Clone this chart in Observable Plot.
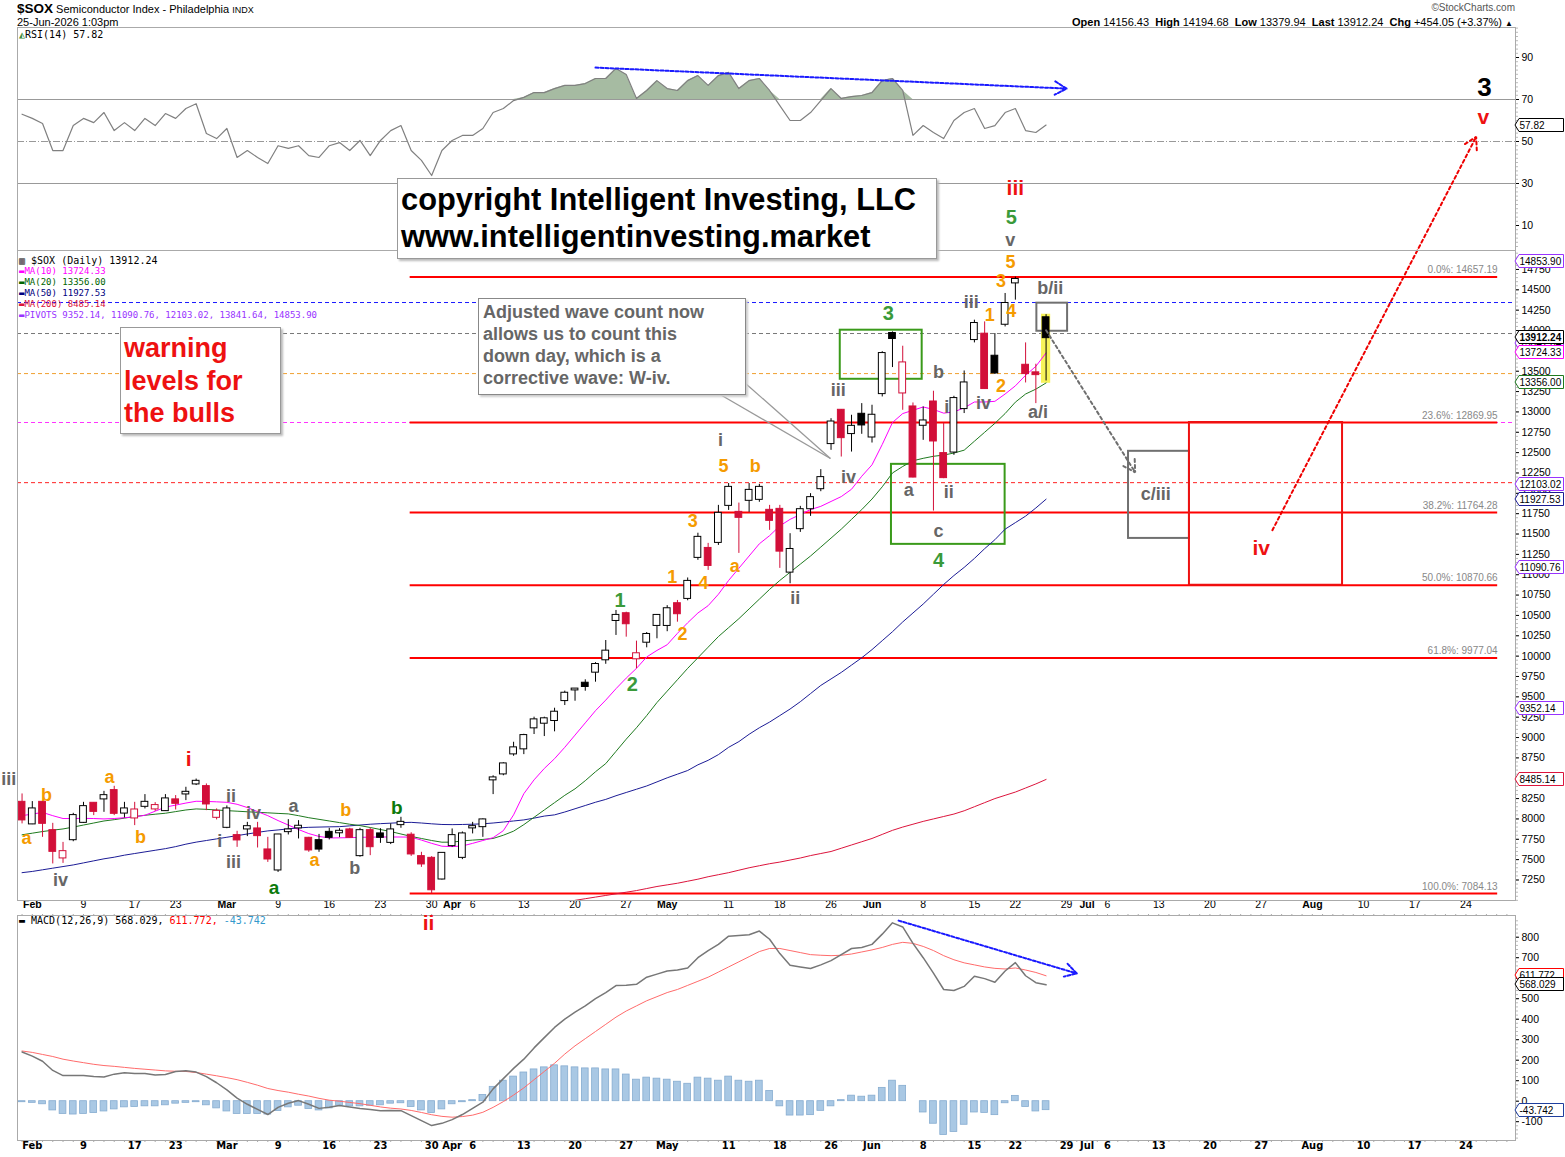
<!DOCTYPE html>
<html><head><meta charset="utf-8">
<script src="https://cdn.jsdelivr.net/npm/d3@7"></script>
<script src="https://cdn.jsdelivr.net/npm/@observablehq/plot@0.6"></script>
<style>
body{margin:0;background:#fff;font-family:"Liberation Sans",Arial,sans-serif;}
#wrap{position:relative;width:1565px;height:1157px;overflow:hidden;background:#fff;}
.box{position:absolute;background:#fff;z-index:6;box-sizing:border-box;}
.leg{position:absolute;font-family:"DejaVu Sans Mono",monospace;font-size:10px;white-space:nowrap;z-index:6;}
</style></head><body><div id="wrap"></div>
<script>
// ================= DATA =================
const firstIndex = -1;           // trading-day index of first candle (Jan 30 2026); Feb 2 = 0
const priorClose = 8210;
const open = [8204,7939,8204,7856,7521,7745,7958,8192,8246,8348,8072,8012,8155,8123,8102,8234,8307,8430,8397,8020,7897,7795,7877,7877,7619,7373,7844,7890,7762,7733,7835,7830,7865,7549,7856,7816,7712,7930,7800,7537,7516,7262,7672,7528,7890,7905,8480,8553,8799,8861,9119,9176,9209,9454,9585,9667,9803,9955,10438,10521,9967,10171,10377,10377,10644,10709,11213,11323,11397,11852,11766,11914,11926,11791,11803,11032,11566,11811,12057,12611,13020,12734,12971,12692,13225,13963,13233,13061,12836,13122,12488,12507,13041,13889,13955,13684,14077,14585,13573,13480,14156.43];
const high = [8307,8213,8213,7946,7712,8069,8204,8200,8339,8401,8204,8204,8299,8200,8299,8287,8389,8490,8430,8123,8160,7848,7958,7958,7774,7810,7991,7979,7774,7810,7885,7880,7885,7885,7885,7880,7940,8020,7830,7590,7537,7580,7877,7840,7958,8000,8530,8690,8942,9040,9250,9250,9360,9570,9600,9709,9920,10192,10561,10540,10184,10290,10510,10620,10684,10960,11510,11385,11852,12120,11880,12120,12110,11852,11852,11504,11840,11996,12291,12917,13029,12959,13102,13082,13740,13983,13807,13110,13061,13254,12864,13192,13503,14127,14106,13963,14455,14657.19,13848,13586,14194.68];
const low = [7939,7930,7774,7447,7454,7720,7946,8041,8081,8041,8012,7918,8123,8093,8093,8110,8225,8410,8102,7988,7880,7651,7783,7643,7466,7343,7803,7754,7590,7590,7742,7770,7760,7530,7549,7700,7685,7885,7540,7405,7084.13,7250,7651,7500,7816,7774,8299,8530,8770,8790,9037,9012,9070,9393,9446,9569,9680,9900,10254,10233,9844,10102,10213,10300,10417,10680,11177,11053,11360,11790,11262,11766,11890,11545,11078,10889,11520,11717,12020,12528,12446,12507,12725,12618,13184,13545,13020,12190,12651,11782,12180,12467,12980,13848,13280,13460,14044,14373,13356,13102,13379.94];
const close = [7988,8123,7946,7602,7598,8041,8151,8093,8286,8069,8123,8110,8204,8164,8246,8192,8327,8462,8184,8093,8123,7742,7905,7795,7508,7803,7865,7910,7619,7630,7774,7848,7774,7856,7659,7774,7865,7958,7570,7447,7130,7577,7795,7816,7905,7988,8504,8676,8873,9024,9217,9230,9311,9544,9595,9627,9897,10061,10500,10398,10029,10266,10500,10582,10521,10918,11459,11114,11754,12073,11705,12036,12073,11668,11290,11310,11799,11947,12193,12876,12684,12823,12840,12959,13717,13902,13602,12200,12889,12643,12193,13164,13356,14086,13287,13479,14332,14627,13471,13458.19,13912.24];

const ma10 = [8040,8060,8080,8040,8005,8005,8007,8005,8000,8005,8015,8025,8045,8095,8145,8170,8195,8217,8215,8210,8204,8180,8140,8090,8040,7980,7925,7870,7820,7785,7766,7768,7770,7774,7776,7778,7778,7778,7776,7740,7700,7665,7660,7668,7700,7735,7770,7856,8050,8310,8480,8620,8740,8880,9030,9180,9330,9460,9600,9730,9850,9990,10070,10140,10280,10410,10530,10620,10760,10930,11080,11230,11380,11480,11600,11680,11740,11800,11840,11900,11960,12050,12210,12350,12600,12870,12980,13020,13061,13030,12985,13000,13050,13122,13122,13130,13220,13320,13450,13560,13724.33];
const ma20 = [7805,7825,7845,7862,7877,7900,7925,7950,7975,7991,8010,8030,8045,8058,8070,8090,8110,8123,8118,8110,8102,8095,8088,8081,8075,8068,8062,8040,8015,7995,7975,7955,7935,7918,7895,7870,7845,7815,7785,7760,7735,7714,7715,7730,7740,7748,7760,7800,7850,7930,8020,8110,8200,8290,8370,8470,8580,8680,8830,8980,9120,9270,9430,9570,9710,9850,9980,10110,10240,10350,10460,10580,10700,10820,10930,11030,11130,11230,11340,11450,11560,11680,11800,11930,12080,12250,12330,12400,12430,12455,12470,12495,12530,12640,12750,12860,12980,13120,13220,13280,13356.00];
const ma50 = [7340,7355,7375,7395,7415,7435,7460,7485,7510,7530,7555,7575,7595,7615,7635,7660,7690,7715,7735,7755,7775,7795,7815,7835,7853,7865,7878,7890,7897,7900,7903,7905,7915,7925,7935,7942,7948,7955,7958,7950,7940,7932,7930,7932,7935,7940,7950,7962,7975,7988,8010,8035,8050,8085,8125,8165,8205,8240,8285,8325,8365,8405,8455,8505,8550,8595,8665,8720,8790,8880,8950,9040,9120,9190,9270,9350,9440,9540,9640,9720,9800,9890,9980,10080,10190,10300,10420,10530,10640,10760,10880,10990,11090,11200,11320,11430,11560,11640,11720,11820,11927.53];
const ma200Start = 53;
const ma200 = [7000,7020,7040,7060,7080,7100,7120,7145,7170,7190,7210,7235,7260,7290,7315,7340,7370,7400,7425,7450,7470,7495,7520,7550,7575,7600,7640,7680,7720,7760,7810,7860,7900,7935,7970,8000,8030,8060,8100,8150,8200,8250,8290,8330,8380,8430,8485.14];

const rsi = [63,61,58.6,45.7,45.7,57.6,61,59,63.8,55.2,59,55.2,61,57.6,63.3,61,65.7,68,53.8,51.4,56.2,42.4,45.7,42.4,39.5,48,46.7,48,43.3,42.4,48,49.5,45.7,50.5,43.3,50.5,55.2,57.6,45.7,41,33.8,45.7,50.5,52.9,52.9,56.2,63.8,65.7,69.5,71,73.3,73.3,75.2,76.7,76.7,77.6,80,80,84.8,81.9,70.5,74.3,79,75.2,74.3,79,81.4,76.7,81.4,82.9,75.2,79,80,74.3,67.1,60,60,63.8,69.5,75.2,70.5,71.4,71.9,73.3,79,80,74.3,52.9,57.6,54.3,51.4,60,63.8,65.7,56.2,57.6,63.8,65.7,55.2,54.3,57.82];
const rsiLevels = [70, 30];
const rsiMid = 50;

const macd = [240,220,195,150,125,125,125,120,118,132,139,135,135,128,130,145,148,142,120,90,55,15,-15,-40,-65,-30,-10,3,-15,-35,-30,-21,-28,-36,-40,-46,-45,-46,-70,-95,-119,-108,-90,-65,-35,-5,60,110,160,205,260,310,360,400,435,465,500,530,564,566,570,605,620,635,640,650,700,735,765,805,808,812,830,790,720,663,655,647,665,686,715,745,750,765,815,870,850,770,700,625,545,540,560,610,598,580,635,676,612,578,568.029];
const signal = [245,238,228,218,205,196,188,180,174,170,165,160,156,152,148,146,145,140,132,124,115,105,92,78,62,52,44,34,25,14,5,0,-6,-12,-20,-28,-34,-38,-45,-55,-66,-74,-78,-75,-68,-54,-30,-2,30,65,105,145,185,230,270,305,340,375,410,440,465,490,510,530,545,565,585,605,630,655,680,705,730,745,745,735,725,715,712,710,712,718,728,738,750,765,775,770,755,735,710,690,675,665,655,648,645,650,640,628,611.772];
const hist = [-5,-8,-15,-45,-62,-65,-62,-58,-50,-40,-30,-28,-25,-25,-20,-12,-8,-5,-20,-35,-50,-62,-62,-62,-65,-48,-30,-22,-38,-45,-35,-22,-25,-25,-22,-20,-12,-10,-28,-45,-58,-40,-15,-5,5,30,70,100,120,140,155,165,175,170,165,160,160,155,155,130,105,115,110,105,95,85,115,110,100,120,100,95,100,50,-25,-70,-70,-68,-47,-25,5,27,22,27,65,100,75,0,-55,-110,-165,-150,-115,-55,-57,-68,-10,26,-28,-50,-43.742];

const pivots = [14853.90, 13841.64, 12103.02, 11090.76, 9352.14];
const refLevels = [14344, 13963, 13471, 12870, 12131];

const fibPct = ["0.0%","23.6%","38.2%","50.0%","61.8%","100.0%"];
const fibVal = [14657.19,12869.95,11764.28,10870.66,9977.04,7084.13];
const fibFrom = 36.9, fibTo = 143.1;

const tickIdx  = [0,5,10,14,19,24,29,34,39,41,43,48,53,58,62,68,73,78,82,87,92,96,101,103,105,110,115,120,125,130,135,140];
const tickText = ["Feb","9","17","23","Mar","9","16","23","30","Apr","6","13","20","27","May","11","18","26","Jun","8","15","22","29","Jul","6","13","20","27","Aug","10","17","24"];
const priceTicks = d3.range(7250, 14751, 250);
const rsiTicks = [10,30,50,70,90];
const macdTicks = [-100,0,100,200,300,400,500,600,700,800];

// wave labels: [text, day index, price]
const grayLabels = [["iii",-2.3,8483],["iv",2.75,7241],["ii",19.4,8274],["iv",21.6,8065],["i",18.3,7721],["iii",19.65,7463],["a",25.5,8151],["b",31.5,7389],["ii",74.5,10709],["i",67.2,12651],["iii",78.7,13266],["iv",79.7,12196],["a",85.6,12036],["b",88.5,13487],["i",89.3,13057],["ii",89.5,12012],["c",88.5,11532],["iii",91.7,14348],["iv",92.9,13106],["a/i",98.2,12996],["b/ii",99.4,14520],["v",95.5,15110],["c/iii",109.7,11987]];
const orangeLabels = [["a",-0.57,7758],["b",1.39,8287],["a",7.54,8508],["b",10.57,7770],["a",27.56,7487],["b",30.6,8102],["3",64.5,11655],["1",62.5,10967],["4",65.55,10893],["2",63.5,10266],["5",67.5,12332],["a",68.6,11102],["b",70.6,12332],["5",95.53,14840],["3",94.6,14606],["1",93.5,14188],["4",95.6,14237],["2",94.6,13315]];
const greenLabels = [["1",57.4,10684],["2",58.6,9651],["3",83.6,14213],["4",88.5,11176],["5",95.6,15393]];
const darkGreenLabels = [["a",23.6,7155],["b",35.6,8139]];
const redLabels = [["i",15.27,8729],["ii",38.7,6713],["iii",96.0,15750],["iv",120,11323],["v",141.7,16623]];
const blackLabels = [["3",141.8,16979]];

// boxes: [i1, i2, price1, price2]
const greenBoxes = [[78.9,86.9,13401,14004],[83.9,95.0,11373,12356]];
const grayBoxes = [[98.1,101.1,13991,14336],[107.05,113.0,11446,12516]];
const redBoxes = [[113.0,127.95,10870.66,12869.95]];
const highlight = [[98.55,99.45,13352,14200]];
// arrows: [i1, v1, i2, v2]
const grayArrow = [[99,14003,107.7,12258]];
const redArrow = [[121.1,11547,141.0,16379]];
const rsiArrow = [[55.0,85.2,101,75.2]];
const macdArrow = [[84.6,881,102,623]];
const calloutTail = [[67.0,13227,77.94,12428],[69.65,13350,77.94,12428]];

// ================= BUILD =================
const W = 1565, ML = 17, MR = 50;
const xDomain = [-1.445, 144.84];
const RED = "#d20f39";
const FONT = "Liberation Sans, Arial, sans-serif";
const wrap = document.getElementById("wrap");

const candles = open.map((o,k)=>({i:firstIndex+k,o,h:high[k],l:low[k],c:close[k],pc:k?close[k-1]:priorClose}));
const col = d => d.c >= d.pc ? "#000" : RED;
const rows = (arr, start=firstIndex) => arr.map((v,k)=>({i:start+k,v}));
const toObj = a => a.map(([t,i,v])=>({t,i,v}));
const toBox = a => a.map(([i1,i2,v1,v2])=>({i1,i2,v1,v2}));
const toSeg = a => a.map(([i1,v1,i2,v2])=>({i1,v1,i2,v2}));
const ticks = tickIdx.map((i,k)=>({i,t:tickText[k],m:/^[A-Z]/.test(tickText[k])}));

function mount(node, top, z){
  const d=document.createElement("div");
  d.style.cssText=`position:absolute;left:0;top:${top}px;z-index:${z}`;
  d.appendChild(node); wrap.appendChild(d);
}
function tag(y, text, color, bold, top){
  const d=document.createElement("div");
  d.style.cssText=`position:absolute;left:1512px;top:${top+y-7}px;z-index:7;height:14px`;
  d.innerHTML=`<svg width="53" height="14"><polygon points="3,7 7,0.5 51.5,0.5 51.5,13.5 7,13.5" fill="white" stroke="${color}"/><text x="7.5" y="11" font-size="10" font-family="${FONT}" font-weight="${bold?'bold':'normal'}" fill="#000">${text}</text></svg>`;
  wrap.appendChild(d);
}
const baseStyle = {background:"transparent", overflow:"visible", fontFamily:FONT, fontSize:"10.5px", color:"#000"};
const labelMark = (arr, fill, size) => Plot.text(toObj(arr), {x:"i", y:"v", text:"t", fill, fontSize:size, fontWeight:"bold", fontFamily:FONT});

// ---- RSI panel ----
const rsiRows = rows(rsi);
const rsiPlot = Plot.plot({
  width: W, height: 223, marginLeft: ML, marginRight: MR, marginTop: 0, marginBottom: 0,
  style: baseStyle,
  x: {domain: xDomain, axis: null},
  y: {domain: [-1.9, 104.29], axis: null},
  marks: [
    Plot.ruleY(rsiLevels, {stroke:"#999", strokeWidth:1}),
    Plot.ruleY([rsiMid], {stroke:"#999", strokeDasharray:"7,2,1,2"}),
    Plot.areaY(rsiRows, {x:"i", y1:()=>70, y2:d=>Math.max(d.v,70), fill:"#a6bba2"}),
    Plot.line(rsiRows, {x:"i", y:"v", stroke:"#808080", strokeWidth:1.2}),
    Plot.arrow(toSeg(rsiArrow), {x1:"i1", y1:"v1", x2:"i2", y2:"v2", stroke:"#1a1aff", strokeWidth:2, strokeDasharray:"3,2", headLength:10}),
    Plot.axisY({anchor:"right", ticks: d3.range(0,105,2), tickSize:2, tickFormat:()=>"", stroke:"#bbb"}),
    Plot.axisY({anchor:"right", ticks: rsiTicks, tickSize:3, tickPadding:3, tickFormat:d=>String(d), fontSize:10.5}),
    Plot.frame({stroke:"#aaa"})
  ]
});
mount(rsiPlot, 27, 1);

// ---- Main price panel ----
const mainPlot = Plot.plot({
  width: W, height: 665, marginLeft: ML, marginRight: MR, marginTop: 0, marginBottom: 15,
  style: baseStyle,
  x: {domain: xDomain, axis: null},
  y: {domain: [6998, 14983], axis: null},
  marks: [
    Plot.ruleY(refLevels, {stroke: (d,k)=>["#1a1aff","#777","#f0a030","#ff33ff","#ff2020"][k], strokeDasharray:"4,3", strokeWidth:1}),
    Plot.ruleY(fibVal, {x1:fibFrom, x2:fibTo, stroke:"#ff0000", strokeWidth:2}),
    Plot.text(fibVal, {x:fibTo, y:d=>d, text:(d,k)=>`${fibPct[k]}: ${d.toFixed(2)}`, textAnchor:"end", dy:-7, fill:"#888", fontSize:10}),
    Plot.rect(toBox(highlight), {x1:"i1", x2:"i2", y1:"v1", y2:"v2", fill:"#f7f35a"}),
    Plot.rect(toBox(greenBoxes), {x1:"i1", x2:"i2", y1:"v1", y2:"v2", stroke:"#3a9a1a", strokeWidth:2, fill:"none"}),
    Plot.rect(toBox(grayBoxes), {x1:"i1", x2:"i2", y1:"v1", y2:"v2", stroke:"#707070", strokeWidth:2, fill:"none"}),
    Plot.rect(toBox(redBoxes), {x1:"i1", x2:"i2", y1:"v1", y2:"v2", stroke:"#ee1111", strokeWidth:2, fill:"none"}),
    Plot.line(rows(ma200, ma200Start), {x:"i", y:"v", stroke:"#dc143c", strokeWidth:1}),
    Plot.line(rows(ma50), {x:"i", y:"v", stroke:"#1c1c96", strokeWidth:1}),
    Plot.line(rows(ma20), {x:"i", y:"v", stroke:"#1f7a1f", strokeWidth:1}),
    Plot.line(rows(ma10), {x:"i", y:"v", stroke:"#ff00ff", strokeWidth:1}),
    Plot.ruleX(candles, {x:"i", y1:"l", y2:"h", stroke:col, strokeWidth:1}),
    Plot.rect(candles, {x1:d=>d.i-0.33, x2:d=>d.i+0.33, y1:d=>Math.min(d.o,d.c), y2:d=>Math.max(d.o,d.c), fill:d=>d.c>d.o?"#fff":col(d), stroke:col, strokeWidth:1, insetTop:-0.5, insetBottom:-0.5}),
    Plot.arrow(toSeg(grayArrow), {x1:"i1", y1:"v1", x2:"i2", y2:"v2", stroke:"#6e6e6e", strokeWidth:2, strokeDasharray:"3,3", headLength:10}),
    Plot.arrow(toSeg(redArrow), {x1:"i1", y1:"v1", x2:"i2", y2:"v2", stroke:"#ee0000", strokeWidth:2, strokeDasharray:"3,3", headLength:10}),
    Plot.link(toSeg(calloutTail), {x1:"i1", y1:"v1", x2:"i2", y2:"v2", stroke:"#999", strokeWidth:1.3}),
    labelMark(grayLabels, "#666", 18),
    labelMark(orangeLabels, "#f59b00", 18),
    labelMark(greenLabels, "#3a9a3a", 20),
    labelMark(darkGreenLabels, "#0b7a0b", 19),
    labelMark(redLabels, "#ee1111", 21),
    labelMark(blackLabels, "#000", 26),
    Plot.axisY({anchor:"right", ticks: d3.range(7000,15000,50), tickSize:2, tickFormat:()=>"", stroke:"#bbb"}),
    Plot.axisY({anchor:"right", ticks: priceTicks, tickSize:3, tickPadding:3, tickFormat:d=>String(d), fontSize:10.5}),
    Plot.text(ticks.filter(d=>!d.m), {x:"i", text:"t", frameAnchor:"bottom", dy:7, fontSize:10.5, fill:"#000"}),
    Plot.text(ticks.filter(d=>d.m), {x:"i", text:"t", frameAnchor:"bottom", dy:7, fontSize:10.5, fontWeight:"bold", fill:"#000"}),
    Plot.frame({stroke:"#aaa"})
  ]
});
mount(mainPlot, 250, 2);

// ---- MACD panel ----
const mRows = d3.range(macd.length).map(k=>({i:firstIndex+k, m:macd[k], s:signal[k], h:hist[k]}));
const macdPlot = Plot.plot({
  width: W, height: 242, marginLeft: ML, marginRight: MR, marginTop: 0, marginBottom: 17,
  style: baseStyle,
  x: {domain: xDomain, axis: null},
  y: {domain: [-191.7, 905.9], axis: null},
  marks: [
    Plot.rect(mRows, {x1:d=>d.i-0.33, x2:d=>d.i+0.33, y1:()=>0, y2:"h", fill:"#a9c8e4", stroke:"#86acd0", strokeWidth:0.8}),
    Plot.line(mRows, {x:"i", y:"s", stroke:"#ff6b6b", strokeWidth:1}),
    Plot.line(mRows, {x:"i", y:"m", stroke:"#777", strokeWidth:1.5}),
    Plot.arrow(toSeg(macdArrow), {x1:"i1", y1:"v1", x2:"i2", y2:"v2", stroke:"#1a1aff", strokeWidth:2, strokeDasharray:"3,2", headLength:10}),
    Plot.axisY({anchor:"right", ticks: d3.range(-180,900,20), tickSize:2, tickFormat:()=>"", stroke:"#bbb"}),
    Plot.axisY({anchor:"right", ticks: macdTicks, tickSize:3, tickPadding:3, tickFormat:d=>String(d), fontSize:10.5}),
    Plot.axisX({anchor:"top", ticks: d3.range(-1,145), tickSize:2, tickFormat:()=>"", stroke:"#aaa"}),
    Plot.axisX({anchor:"bottom", ticks: d3.range(-1,145), tickSize:2, tickFormat:()=>"", stroke:"#aaa"}),
    Plot.text(ticks, {x:"i", text:"t", frameAnchor:"bottom", dy:8, fontSize:11, fontWeight:"bold", fontFamily:"Liberation Sans Narrow, DejaVu Sans Condensed, Arial Narrow, sans-serif", fill:"#000"}),
    Plot.frame({stroke:"#aaa"})
  ]
});
mount(macdPlot, 915, 1);

// ---- tags on right axes ----
const ym = v => mainPlot.scale("y").apply(v);
const tagSpec = [[pivots[0],"#9933ff"],[pivots[1],"#9933ff"],[close[close.length-1],"#000",true],[ma10[ma10.length-1],"#ff00ff"],[ma20[ma20.length-1],"#1f7a1f"],[pivots[2],"#9933ff"],[ma50[ma50.length-1],"#1c1c96"],[pivots[3],"#9933ff"],[pivots[4],"#9933ff"],[ma200[ma200.length-1],"#dc143c"]];
tagSpec.forEach(([v,c,b])=>tag(ym(v), v.toFixed(2), c, b, 250));
tag(rsiPlot.scale("y").apply(rsi[rsi.length-1]), rsi[rsi.length-1].toFixed(2), "#000", false, 27);
const yM = v => macdPlot.scale("y").apply(v);
tag(yM(signal[signal.length-1]), signal[signal.length-1].toFixed(3), "#ff0000", false, 915);
tag(yM(macd[macd.length-1]), macd[macd.length-1].toFixed(3), "#000", false, 915);
tag(yM(hist[hist.length-1]), hist[hist.length-1].toFixed(3), "#1f3f9f", false, 915);

// ---- header / legends / text boxes ----
const L = close.length-1;
const chg = close[L]-close[L-1];
wrap.insertAdjacentHTML("beforeend", `
<div style="position:absolute;left:17px;top:1px;font-size:11px;z-index:6;white-space:nowrap"><b style="font-size:13.5px">$SOX</b> Semiconductor Index - Philadelphia <span style="font-size:9px">INDX</span></div>
<div style="position:absolute;left:17px;top:16px;font-size:11px;z-index:6">25-Jun-2026 1:03pm</div>
<div style="position:absolute;right:50px;top:2px;font-size:10px;color:#555;z-index:6">©StockCharts.com</div>
<div style="position:absolute;right:52px;top:16px;font-size:11px;z-index:6;white-space:nowrap"><b>Open</b> ${open[L].toFixed(2)}&nbsp; <b>High</b> ${high[L].toFixed(2)}&nbsp; <b>Low</b> ${low[L].toFixed(2)}&nbsp; <b>Last</b> ${close[L].toFixed(2)}&nbsp; <b>Chg</b> +${chg.toFixed(2)} (+${(chg/close[L-1]*100).toFixed(2)}%) <span style="font-size:8px">▲</span></div>
<div class="leg" style="left:19px;top:29px"><span style="color:#3a8a3a">◭</span>RSI(14) ${rsi[rsi.length-1].toFixed(2)}</div>
<div class="leg" style="left:19px;top:255px">▥ $SOX (Daily) ${close[L].toFixed(2)}</div>
<div class="leg" style="left:19px;top:266px;font-size:9px;color:#ff00ff"><b>▬</b>MA(10) ${ma10[ma10.length-1].toFixed(2)}</div>
<div class="leg" style="left:19px;top:277px;font-size:9px;color:#006400"><b>▬</b>MA(20) ${ma20[ma20.length-1].toFixed(2)}</div>
<div class="leg" style="left:19px;top:288px;font-size:9px;color:#000080"><b>▬</b>MA(50) ${ma50[ma50.length-1].toFixed(2)}</div>
<div class="leg" style="left:19px;top:299px;font-size:9px;color:#dc143c"><b>▬</b>MA(200) ${ma200[ma200.length-1].toFixed(2)}</div>
<div class="leg" style="left:19px;top:310px;font-size:9px;color:#9933ff"><b>▬</b>PIVOTS ${pivots.slice().sort((a,b)=>a-b).map(v=>v.toFixed(2)).join(", ")}</div>
<div class="leg" style="left:19px;top:915px">▬ MACD(12,26,9) ${macd[L].toFixed(3)}, <span style="color:#ff0000">${signal[L].toFixed(3)},</span> <span style="color:#3399cc">${hist[L].toFixed(3)}</span></div>
<div class="box" style="left:397px;top:178px;width:540px;height:81px;border:1px solid #999;box-shadow:2px 2px 2px #bbb;padding:2px 0 0 3px;font-weight:bold;font-size:30.8px;line-height:37px;color:#000;white-space:nowrap">copyright Intelligent Investing, LLC<br>www.intelligentinvesting.market</div>
<div class="box" style="left:120px;top:327px;width:161px;height:107px;border:1px solid #999;box-shadow:2px 2px 2px #bbb;padding:4px 0 0 3px;font-weight:bold;font-size:27px;line-height:32.5px;color:#ee1111;white-space:nowrap">warning<br>levels for<br>the bulls</div>
<div class="box" style="left:478px;top:298px;width:268px;height:97px;border:1px solid #888;box-shadow:2px 2px 2px #ccc;padding:2px 0 0 4px;font-weight:bold;font-size:18px;line-height:22px;color:#666;white-space:nowrap">Adjusted wave count now<br>allows us to count this<br>down day, which is a<br>corrective wave: W-iv.</div>
`);
</script></body></html>
